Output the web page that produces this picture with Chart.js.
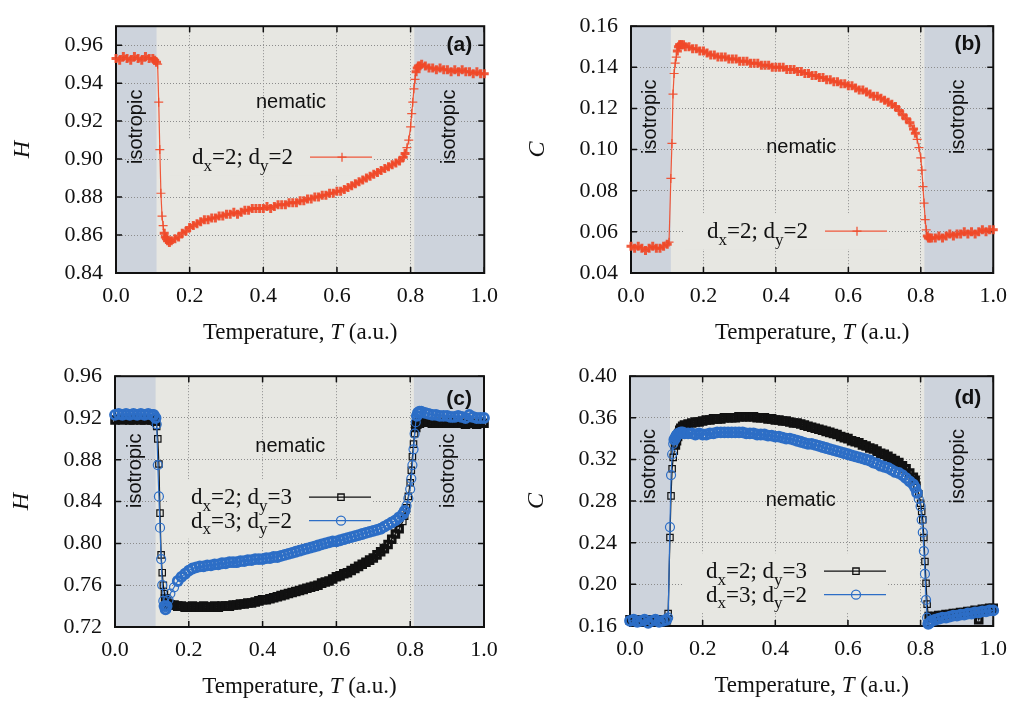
<!DOCTYPE html>
<html>
<head>
<meta charset="utf-8">
<script src="https://cdn.jsdelivr.net/npm/chart.js@4.4.1/dist/chart.umd.min.js"></script>
<style>
  html, body { margin: 0; padding: 0; background: #ffffff; }
  canvas { position: absolute; }
</style>
</head>
<body>
<canvas id="chart-a" width="508" height="350" style="left:0px;top:0px"></canvas>
<canvas id="chart-b" width="509" height="350" style="left:508px;top:0px"></canvas>
<canvas id="chart-c" width="508" height="351" style="left:0px;top:350px"></canvas>
<canvas id="chart-d" width="509" height="351" style="left:508px;top:350px"></canvas>
<script>
/* ------------------------------------------------------------
   DATA — temperature grid shared by every curve (a.u.)
   ------------------------------------------------------------ */
var temps = [
  0.00, 0.01, 0.02, 0.03, 0.04, 0.05, 0.06, 0.07, 0.08, 0.09, 0.10,
  0.105, 0.11, 0.113, 0.116, 0.119, 0.122, 0.125, 0.128, 0.131, 0.134, 0.137, 0.14, 0.145, 0.15,
  0.16, 0.17, 0.18, 0.19, 0.20, 0.21, 0.22, 0.23, 0.24, 0.25, 0.26, 0.27, 0.28, 0.29,
  0.30, 0.31, 0.32, 0.33, 0.34, 0.35, 0.36, 0.37, 0.38, 0.39, 0.40, 0.41, 0.42, 0.43, 0.44, 0.45, 0.46, 0.47, 0.48, 0.49,
  0.50, 0.51, 0.52, 0.53, 0.54, 0.55, 0.56, 0.57, 0.58, 0.59, 0.60, 0.61, 0.62, 0.63, 0.64, 0.65, 0.66, 0.67, 0.68, 0.69,
  0.70, 0.71, 0.72, 0.73, 0.74, 0.75, 0.76, 0.77, 0.78,
  0.785, 0.79, 0.795, 0.80, 0.803, 0.806, 0.809, 0.812, 0.815, 0.818, 0.821, 0.825, 0.83,
  0.84, 0.85, 0.86, 0.87, 0.88, 0.89, 0.90, 0.91, 0.92, 0.93, 0.94, 0.95, 0.96, 0.97, 0.98, 0.99, 1.00
];

// (a) H, dx=2; dy=2
var hSquare = [
  0.953, 0.952, 0.954, 0.953, 0.952, 0.954, 0.953, 0.952, 0.954, 0.953, 0.953,
  0.952, 0.951, 0.950, 0.930, 0.905, 0.882, 0.870, 0.865, 0.861, 0.859, 0.858, 0.857, 0.856, 0.857,
  0.858, 0.859, 0.861, 0.862, 0.864, 0.865, 0.866, 0.867, 0.868, 0.868, 0.869, 0.869, 0.870, 0.870,
  0.871, 0.871, 0.872, 0.871, 0.872, 0.873, 0.873, 0.874, 0.874, 0.874, 0.874, 0.875, 0.874, 0.875, 0.876, 0.876, 0.876, 0.877, 0.877, 0.877,
  0.878, 0.878, 0.879, 0.879, 0.880, 0.880, 0.881, 0.881, 0.882, 0.882, 0.883, 0.883, 0.884, 0.885, 0.886, 0.887, 0.888, 0.889, 0.890, 0.891,
  0.892, 0.893, 0.894, 0.895, 0.896, 0.897, 0.898, 0.899, 0.901,
  0.903, 0.906, 0.910, 0.917, 0.924, 0.930, 0.937, 0.942, 0.946, 0.948, 0.949, 0.949, 0.950,
  0.949, 0.948, 0.948, 0.947, 0.948, 0.947, 0.947, 0.946, 0.947, 0.946, 0.947, 0.946, 0.946, 0.945, 0.946, 0.945, 0.945
];

// (b) C, dx=2; dy=2
var cSquare = [
  0.053, 0.052, 0.053, 0.052, 0.051, 0.052, 0.053, 0.052, 0.052, 0.053, 0.054,
  0.055, 0.086, 0.103, 0.127, 0.137, 0.142, 0.145, 0.148, 0.150, 0.151, 0.151, 0.151, 0.151, 0.150,
  0.150, 0.149, 0.149, 0.148, 0.148, 0.147, 0.146, 0.146, 0.145, 0.145, 0.145, 0.144, 0.144, 0.144,
  0.143, 0.143, 0.143, 0.142, 0.142, 0.142, 0.141, 0.141, 0.141, 0.140, 0.140, 0.140, 0.140, 0.139, 0.139, 0.139, 0.138, 0.138, 0.137, 0.137,
  0.136, 0.136, 0.135, 0.135, 0.134, 0.134, 0.133, 0.133, 0.132, 0.132, 0.131, 0.131, 0.130, 0.129, 0.129, 0.128, 0.127, 0.126, 0.126, 0.125,
  0.124, 0.123, 0.122, 0.121, 0.119, 0.117, 0.115, 0.113, 0.110,
  0.108, 0.105, 0.101, 0.096, 0.090, 0.082, 0.074, 0.066, 0.061, 0.058, 0.057, 0.057, 0.057,
  0.057, 0.058, 0.057, 0.058, 0.059, 0.058, 0.059, 0.059, 0.060, 0.059, 0.060, 0.059, 0.060, 0.061, 0.060, 0.061, 0.061
];

// (c) H, dx=2; dy=3
var hRectXY23 = [
  0.918, 0.919, 0.918, 0.919, 0.918, 0.918, 0.919, 0.918, 0.918, 0.919, 0.918,
  0.918, 0.917, 0.912, 0.900, 0.876, 0.829, 0.789, 0.772, 0.760, 0.752, 0.747, 0.744, 0.742, 0.741,
  0.741, 0.740, 0.740, 0.739, 0.739, 0.740, 0.739, 0.739, 0.740, 0.739, 0.739, 0.740, 0.739, 0.740,
  0.740, 0.740, 0.741, 0.741, 0.742, 0.742, 0.743, 0.743, 0.744, 0.745, 0.746, 0.746, 0.747, 0.748, 0.749, 0.750, 0.751, 0.752, 0.753, 0.754,
  0.755, 0.756, 0.757, 0.758, 0.759, 0.760, 0.762, 0.763, 0.764, 0.766, 0.768, 0.769, 0.771, 0.772, 0.774, 0.776, 0.778, 0.780, 0.782, 0.784,
  0.786, 0.789, 0.792, 0.795, 0.799, 0.804, 0.809, 0.814, 0.821,
  0.826, 0.834, 0.845, 0.858, 0.870, 0.883, 0.895, 0.905, 0.911, 0.914, 0.915, 0.915, 0.916,
  0.916, 0.916, 0.915, 0.915, 0.916, 0.915, 0.915, 0.916, 0.915, 0.915, 0.915, 0.914, 0.915, 0.915, 0.914, 0.915, 0.915
];

// (c) H, dx=3; dy=2
var hRectXY32 = [
  0.923, 0.924, 0.923, 0.924, 0.923, 0.924, 0.923, 0.924, 0.923, 0.924, 0.923,
  0.923, 0.920, 0.914, 0.875, 0.845, 0.815, 0.785, 0.760, 0.745, 0.740, 0.737, 0.740, 0.746, 0.752,
  0.758, 0.764, 0.768, 0.771, 0.774, 0.776, 0.777, 0.778, 0.778, 0.779, 0.779, 0.780, 0.780, 0.781,
  0.781, 0.782, 0.782, 0.782, 0.783, 0.783, 0.784, 0.784, 0.785, 0.785, 0.785, 0.786, 0.786, 0.787, 0.787, 0.788, 0.789, 0.790, 0.791, 0.792,
  0.793, 0.794, 0.795, 0.796, 0.797, 0.798, 0.799, 0.800, 0.801, 0.802, 0.802, 0.803, 0.804, 0.805, 0.806, 0.807, 0.808, 0.809, 0.810, 0.811,
  0.812, 0.813, 0.814, 0.816, 0.818, 0.820, 0.822, 0.825, 0.828,
  0.831, 0.836, 0.843, 0.852, 0.862, 0.875, 0.890, 0.905, 0.916, 0.922, 0.925, 0.926, 0.926,
  0.925, 0.924, 0.923, 0.923, 0.922, 0.922, 0.922, 0.921, 0.921, 0.922, 0.921, 0.920, 0.923, 0.921, 0.920, 0.920, 0.920
];

// (d) C, dx=2; dy=3
var cRectXY23 = [
  0.166, 0.165, 0.166, 0.164, 0.165, 0.166, 0.165, 0.164, 0.165, 0.166, 0.166,
  0.172, 0.245, 0.285, 0.311, 0.322, 0.328, 0.334, 0.338, 0.342, 0.345, 0.348, 0.350, 0.352, 0.353,
  0.354, 0.355, 0.356, 0.356, 0.357, 0.358, 0.358, 0.359, 0.359, 0.359, 0.360, 0.360, 0.360, 0.360,
  0.361, 0.361, 0.361, 0.361, 0.361, 0.360, 0.360, 0.360, 0.359, 0.359, 0.358, 0.358, 0.357, 0.357, 0.356, 0.355, 0.355, 0.354, 0.353, 0.352,
  0.351, 0.350, 0.349, 0.348, 0.347, 0.346, 0.345, 0.344, 0.342, 0.341, 0.340, 0.338, 0.337, 0.336, 0.334, 0.333, 0.331, 0.330, 0.328, 0.326,
  0.325, 0.323, 0.321, 0.319, 0.317, 0.314, 0.311, 0.307, 0.303,
  0.300, 0.295, 0.287, 0.278, 0.270, 0.262, 0.245, 0.222, 0.201, 0.181, 0.170, 0.168, 0.169,
  0.169, 0.170, 0.170, 0.171, 0.171, 0.172, 0.172, 0.173, 0.173, 0.174, 0.174, 0.175, 0.166, 0.176, 0.176, 0.177, 0.177
];

// (d) C, dx=3; dy=2
var cRectXY32 = [
  0.165, 0.166, 0.164, 0.165, 0.166, 0.163, 0.165, 0.166, 0.164, 0.165, 0.166,
  0.168, 0.255, 0.305, 0.325, 0.335, 0.339, 0.341, 0.343, 0.344, 0.345, 0.345, 0.346, 0.346, 0.345,
  0.345, 0.345, 0.344, 0.345, 0.344, 0.344, 0.345, 0.345, 0.346, 0.346, 0.346, 0.346, 0.346, 0.346,
  0.346, 0.346, 0.345, 0.345, 0.345, 0.344, 0.344, 0.344, 0.343, 0.343, 0.342, 0.342, 0.341, 0.340, 0.340, 0.339, 0.338, 0.337, 0.336, 0.335,
  0.335, 0.334, 0.333, 0.332, 0.331, 0.330, 0.329, 0.328, 0.327, 0.326, 0.325, 0.324, 0.323, 0.322, 0.321, 0.320, 0.319, 0.317, 0.316, 0.314,
  0.313, 0.312, 0.310, 0.308, 0.307, 0.305, 0.302, 0.299, 0.296,
  0.293, 0.288, 0.282, 0.275, 0.262, 0.250, 0.232, 0.210, 0.185, 0.168, 0.162, 0.163, 0.165,
  0.166, 0.167, 0.168, 0.168, 0.169, 0.170, 0.170, 0.171, 0.171, 0.172, 0.172, 0.173, 0.173, 0.174, 0.174, 0.175, 0.175
];

// tick labels
var xTicks  = [0.0, 0.2, 0.4, 0.6, 0.8, 1.0];
var yTicksA = [0.84, 0.86, 0.88, 0.90, 0.92, 0.94, 0.96];
var yTicksB = [0.04, 0.06, 0.08, 0.10, 0.12, 0.14, 0.16];
var yTicksC = [0.72, 0.76, 0.80, 0.84, 0.88, 0.92, 0.96];
var yTicksD = [0.16, 0.20, 0.24, 0.28, 0.32, 0.36, 0.40];

// phase boundaries (shaded isotropic regions)
var isoLowEnd = 0.11;
var isoHighStart = 0.81;

// legend labels ("_" marks the next character as a subscript)
var label22 = "d_x=2; d_y=2";
var label23 = "d_x=2; d_y=3";
var label32 = "d_x=3; d_y=2";

/* ------------------------------------------------------------
   STYLE
   ------------------------------------------------------------ */
var serif = "'Liberation Serif', 'Times New Roman', serif";
var sans  = "'Liberation Sans', Arial, sans-serif";
var nematicFill = "#e7e7e2";
var isoFill     = "#cdd3dc";
var gridColor   = "#8c8c8c";
var inkColor    = "#111111";
var redColor    = "rgba(239, 72, 40, 0.9)";
var blackColor  = "#111111";
var blueColor   = "#2d6ec6";

function pairs(values) {
  return temps.map(function (t, i) { return { x: t, y: values[i] }; });
}

function seriesStyle(kind) {
  if (kind === "red") {
    return { color: redColor, pointStyle: "cross", radius: 4.5, bandWidth: 3, thinWidth: 1.2 };
  }
  if (kind === "black") {
    return { color: blackColor, pointStyle: "rect", radius: 4.5, bandWidth: 3.2, thinWidth: 1.2 };
  }
  return { color: blueColor, pointStyle: "circle", radius: 4.5, bandWidth: 2.8, thinWidth: 1.2 };
}

/* ------------------------------------------------------------
   TEXT HELPERS
   ------------------------------------------------------------ */
function parseSub(str) {
  var parts = [];
  var buf = "";
  for (var i = 0; i < str.length; i++) {
    if (str[i] === "_") {
      if (buf) { parts.push({ text: buf }); buf = ""; }
      parts.push({ text: str[i + 1], sub: true });
      i++;
    } else {
      buf += str[i];
    }
  }
  if (buf) { parts.push({ text: buf }); }
  return parts;
}

function partFont(p, size) {
  var s = p.sub ? Math.round(size * 0.72) : size;
  return (p.italic ? "italic " : "") + s + "px " + serif;
}

function richWidth(ctx, parts, size) {
  var w = 0;
  parts.forEach(function (p) { ctx.font = partFont(p, size); w += ctx.measureText(p.text).width; });
  return w;
}

function drawRich(ctx, parts, x, baseline, size) {
  ctx.textAlign = "left";
  ctx.textBaseline = "alphabetic";
  parts.forEach(function (p) {
    ctx.font = partFont(p, size);
    ctx.fillText(p.text, x, baseline + (p.sub ? size * 0.28 : 0));
    x += ctx.measureText(p.text).width;
  });
}

var xTitleParts = [{ text: "Temperature, " }, { text: "T", italic: true }, { text: " (a.u.)" }];

/* ------------------------------------------------------------
   PANEL DECORATION PLUGIN
   shading, frame, inner ticks, legend, labels, axis titles
   ------------------------------------------------------------ */
var panelDecor = {
  id: "panelDecor",

  beforeDraw: function (chart) {
    var a = chart.chartArea, ctx = chart.ctx, xs = chart.scales.x;
    var xL = xs.getPixelForValue(isoLowEnd);
    var xR = xs.getPixelForValue(isoHighStart);
    var h = a.bottom - a.top;
    ctx.save();
    ctx.fillStyle = nematicFill;
    ctx.fillRect(a.left, a.top, a.right - a.left, h);
    ctx.fillStyle = isoFill;
    ctx.fillRect(a.left, a.top, xL - a.left, h);
    ctx.fillRect(xR, a.top, a.right - xR, h);
    ctx.restore();
  },

  beforeDatasetsDraw: function (chart, args, o) {
    var a = chart.chartArea, ctx = chart.ctx, xs = chart.scales.x, ys = chart.scales.y;
    var sets = chart.data.datasets;
    ctx.save();

    // legend box hides the grid behind it
    var lx = a.left + 76;
    var top = a.top + o.legendTop;
    var rowGap = 23.5;
    ctx.fillStyle = nematicFill;
    ctx.fillRect(lx - 22, top - 18, 204, (sets.length - 1) * rowGap + 36);

    // phase labels
    ctx.fillStyle = inkColor;
    ctx.font = "20px " + sans;
    ctx.textAlign = "center";
    ctx.textBaseline = "middle";
    var isoY = ys.getPixelForValue(o.isoY);
    var xL = xs.getPixelForValue(isoLowEnd);
    var xR = xs.getPixelForValue(isoHighStart);
    [ (a.left + xL) / 2, (xR + a.right) / 2 ].forEach(function (cx) {
      ctx.save();
      ctx.translate(cx, isoY);
      ctx.rotate(-Math.PI / 2);
      ctx.fillText("isotropic", 0, 0);
      ctx.restore();
    });
    ctx.fillText("nematic", xs.getPixelForValue(o.nematic[0]), ys.getPixelForValue(o.nematic[1]));

    // panel tag
    ctx.font = "bold 21px " + sans;
    ctx.textAlign = "right";
    ctx.fillText(o.tag, a.right - 12, a.top + o.tagY);

    // legend rows
    sets.forEach(function (ds, i) {
      var y = top + i * rowGap;
      ctx.fillStyle = inkColor;
      drawRich(ctx, parseSub(ds.label), lx, y + 7, 23);
      ctx.strokeStyle = ds.borderColor;
      ctx.lineWidth = 1.3;
      ctx.beginPath();
      ctx.moveTo(a.left + 194, y);
      ctx.lineTo(a.left + 256, y);
      ctx.stroke();
      ctx.lineWidth = 1.3;
      ctx.fillStyle = "rgba(0,0,0,0)";
      Chart.helpers.drawPoint(ctx, {
        pointStyle: ds.pointStyle, radius: ds.pointRadius, borderWidth: 1.3, rotation: 0
      }, a.left + 226, y);
    });

    // frame with inward ticks
    ctx.strokeStyle = inkColor;
    ctx.lineWidth = 2;
    ctx.strokeRect(a.left, a.top, a.right - a.left, a.bottom - a.top);
    ctx.lineWidth = 1.5;
    ctx.beginPath();
    xs.ticks.forEach(function (t) {
      var px = xs.getPixelForValue(t.value);
      ctx.moveTo(px, a.bottom); ctx.lineTo(px, a.bottom - 6);
      ctx.moveTo(px, a.top);    ctx.lineTo(px, a.top + 6);
    });
    ys.ticks.forEach(function (t) {
      var py = ys.getPixelForValue(t.value);
      ctx.moveTo(a.left, py);  ctx.lineTo(a.left + 6, py);
      ctx.moveTo(a.right, py); ctx.lineTo(a.right - 6, py);
    });
    ctx.stroke();
    ctx.restore();
  },

  afterDraw: function (chart, args, o) {
    var a = chart.chartArea, ctx = chart.ctx;
    ctx.save();
    ctx.fillStyle = inkColor;
    // x title
    var w = richWidth(ctx, xTitleParts, 23);
    drawRich(ctx, xTitleParts, (a.left + a.right) / 2 - w / 2, a.bottom + 66, 23);
    // y title
    ctx.translate(a.left - 93, (a.top + a.bottom) / 2);
    ctx.rotate(-Math.PI / 2);
    ctx.font = "italic 24px " + serif;
    ctx.textAlign = "center";
    ctx.textBaseline = "middle";
    ctx.fillText(o.yTitle, 0, 0);
    ctx.restore();
  }
};

/* ------------------------------------------------------------
   PANEL FACTORY
   ------------------------------------------------------------ */
function makePanel(canvasId, cfg) {
  var canvas = document.getElementById(canvasId);
  var W = canvas.width, H = canvas.height;
  var box = cfg.box;
  var span = cfg.yMax - cfg.yMin;

  var datasets = cfg.series.map(function (s) {
    var st = seriesStyle(s.kind);
    var vals = s.values;
    return {
      label: s.label,
      data: pairs(vals),
      showLine: true,
      borderColor: st.color,
      borderWidth: 1.2,
      pointStyle: st.pointStyle,
      pointRadius: st.radius,
      pointBorderColor: st.color,
      pointBackgroundColor: "rgba(0,0,0,0)",
      // markers pile up into a dense band on the plateaus; steep parts stay thin
      pointBorderWidth: function (c) {
        var i = c.dataIndex;
        var lo = vals[Math.max(0, i - 1)], hi = vals[Math.min(vals.length - 1, i + 1)];
        return Math.abs(hi - lo) > span * 0.05 ? st.thinWidth : st.bandWidth;
      },
      pointHoverRadius: st.radius,
      order: s.order,
      clip: 8
    };
  });

  return new Chart(canvas.getContext("2d"), {
    type: "scatter",
    data: { datasets: datasets },
    plugins: [panelDecor],
    options: {
      responsive: false,
      animation: false,
      events: [],
      layout: { padding: { left: 0, top: box.top, right: W - box.right, bottom: 0 } },
      plugins: {
        legend: { display: false },
        tooltip: { enabled: false },
        panelDecor: {
          tag: cfg.tag, tagY: cfg.tagY, yTitle: cfg.yTitle,
          isoY: cfg.isoY, nematic: cfg.nematic, legendTop: cfg.legendTop
        }
      },
      scales: {
        x: {
          type: "linear", min: 0, max: 1,
          afterBuildTicks: function (s) { s.ticks = xTicks.map(function (v) { return { value: v }; }); },
          afterFit: function (s) { s.height = H - box.bottom; },
          grid: { color: gridColor, lineWidth: 1, drawTicks: false },
          border: { display: false, dash: [1, 2] },
          ticks: {
            color: inkColor, padding: 10, autoSkip: false, maxRotation: 0,
            font: { family: serif, size: 22 },
            callback: function (v) { return v.toFixed(1); }
          }
        },
        y: {
          type: "linear", min: cfg.yMin, max: cfg.yMax,
          afterBuildTicks: function (s) { s.ticks = cfg.yTicks.map(function (v) { return { value: v }; }); },
          afterFit: function (s) { s.width = box.left; },
          grid: { color: gridColor, lineWidth: 1, drawTicks: false },
          border: { display: false, dash: [1, 2] },
          ticks: {
            color: inkColor, padding: 13, autoSkip: false,
            font: { family: serif, size: 22 },
            callback: function (v) { return v.toFixed(2); }
          }
        }
      }
    }
  });
}

makePanel("chart-a", {
  box: { left: 116, right: 488, top: 14, bottom: 273 },
  yMin: 0.84, yMax: 0.97, yTicks: yTicksA, yTitle: "H",
  tag: "(a)", tagY: 19, isoY: 0.917, nematic: [0.475, 0.930], legendTop: 131,
  series: [{ label: label22, values: hSquare, kind: "red", order: 0 }]
});

makePanel("chart-b", {
  box: { left: 123, right: 492, top: 15, bottom: 273 },
  yMin: 0.04, yMax: 0.16, yTicks: yTicksB, yTitle: "C",
  tag: "(b)", tagY: 18, isoY: 0.116, nematic: [0.47, 0.101], legendTop: 205,
  series: [{ label: label22, values: cSquare, kind: "red", order: 0 }]
});

makePanel("chart-c", {
  box: { left: 115, right: 484, top: 17, bottom: 277 },
  yMin: 0.72, yMax: 0.96, yTicks: yTicksC, yTitle: "H",
  tag: "(c)", tagY: 23, isoY: 0.8695, nematic: [0.475, 0.8926], legendTop: 121,
  series: [
    { label: label23, values: hRectXY23, kind: "black", order: 1 },
    { label: label32, values: hRectXY32, kind: "blue", order: 0 }
  ]
});

makePanel("chart-d", {
  box: { left: 122, right: 492, top: 18, bottom: 276 },
  yMin: 0.16, yMax: 0.40, yTicks: yTicksD, yTitle: "C",
  tag: "(d)", tagY: 22, isoY: 0.3135, nematic: [0.47, 0.281], legendTop: 195,
  series: [
    { label: label23, values: cRectXY23, kind: "black", order: 1 },
    { label: label32, values: cRectXY32, kind: "blue", order: 0 }
  ]
});
</script>
</body>
</html>
